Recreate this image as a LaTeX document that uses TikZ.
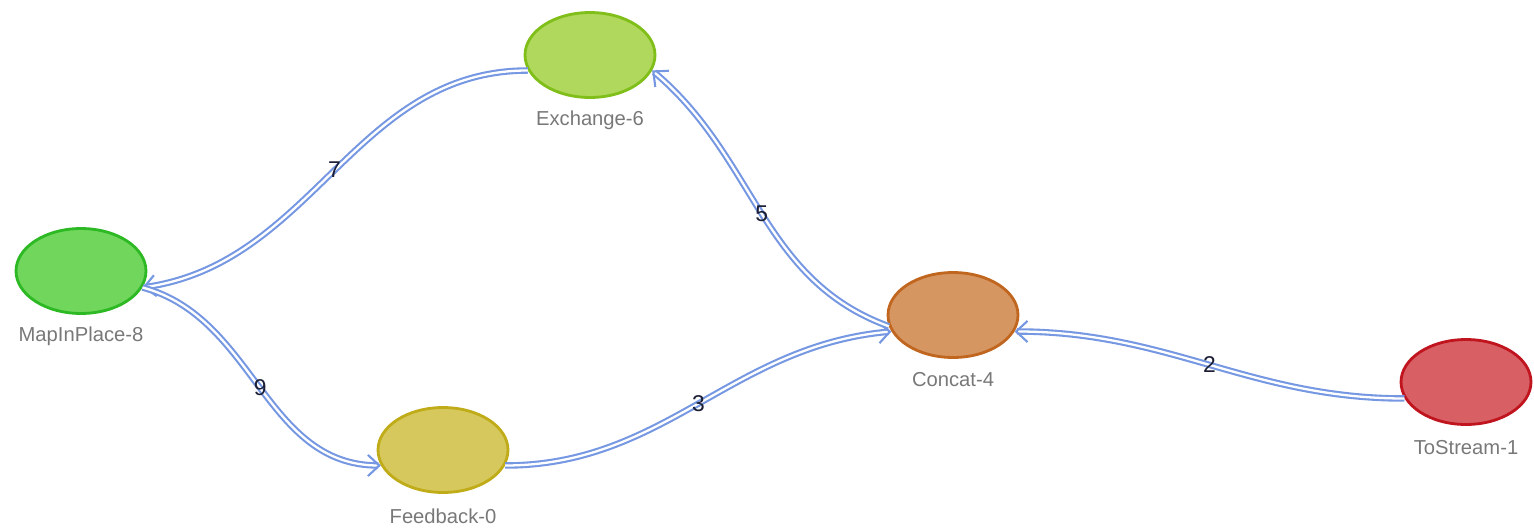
\documentclass[tikz,border=0pt]{standalone}
\usepackage{fontspec}
\setmainfont{Liberation Sans}
\usetikzlibrary{arrows.meta}
\usetikzlibrary{shapes.geometric}

\definecolor{edgeblue}{RGB}{118,152,226}
\definecolor{numdark}{RGB}{28,30,52}
\definecolor{namegrey}{RGB}{120,120,120}

\begin{document}
\begin{tikzpicture}[x=0.02cm,y=-0.02cm,
    op/.style={ellipse,minimum width=2.6cm,minimum height=1.7cm,line width=1.6pt,inner sep=0pt},
    opname/.style={text=namegrey,font=\fontsize{11.5}{13}\selectfont},
    flow/.style={draw=edgeblue,double=white,line width=1.2pt,double distance=1.3pt,-{Straight Barb[length=6.5pt,width=12pt]}},
    num/.style={text=numdark,font=\fontsize{13}{15}\selectfont,inner sep=0pt}]
        \useasboundingbox (0,0) rectangle (1534,528);

        % operators
        \node[op,draw={rgb,255:red,45;green,185;blue,35},fill={rgb,255:red,112;green,214;blue,92}] (map) at (81,271) {};
        \node[op,draw={rgb,255:red,128;green,190;blue,25},fill={rgb,255:red,176;green,216;blue,92}] (exch) at (590,55) {};
        \node[op,draw={rgb,255:red,192;green,102;blue,30},fill={rgb,255:red,214;green,150;blue,98}] (concat) at (953,315) {};
        \node[op,draw={rgb,255:red,192;green,172;blue,25},fill={rgb,255:red,214;green,200;blue,92}] (feedback) at (443,450) {};
        \node[op,draw={rgb,255:red,192;green,20;blue,30},fill={rgb,255:red,216;green,96;blue,100}] (tostream) at (1466,382) {};

        \node[opname] (maplbl) at (81,336) {MapInPlace-8};
        \node[opname] (exchlbl) at (590,120) {Exchange-6};
        \node[opname] (concatlbl) at (953,380) {Concat-4};
        \node[opname] (feedbacklbl) at (443,516) {Feedback-0};
        \node[opname] (tostreamlbl) at (1466,448) {ToStream-1};

        % dataflow edges
        \draw[flow] (tostream.195) to[out=180,in=0] node[num] {2} (concat.-15);
        \draw[flow] (feedback.-14) to[out=0,in=185] node[num] {3} (concat.195);
        \draw[flow] (concat.190) to[out=160,in=-40] node[num] {5} (exch.-14);
        \draw[flow] (exch.194) to[out=180,in=8] node[num] {7} (map.-15);
        \draw[flow] (map.-15) to[out=-15,in=180] node[num] {9} (feedback.194);
      \end{tikzpicture}
\end{document}
